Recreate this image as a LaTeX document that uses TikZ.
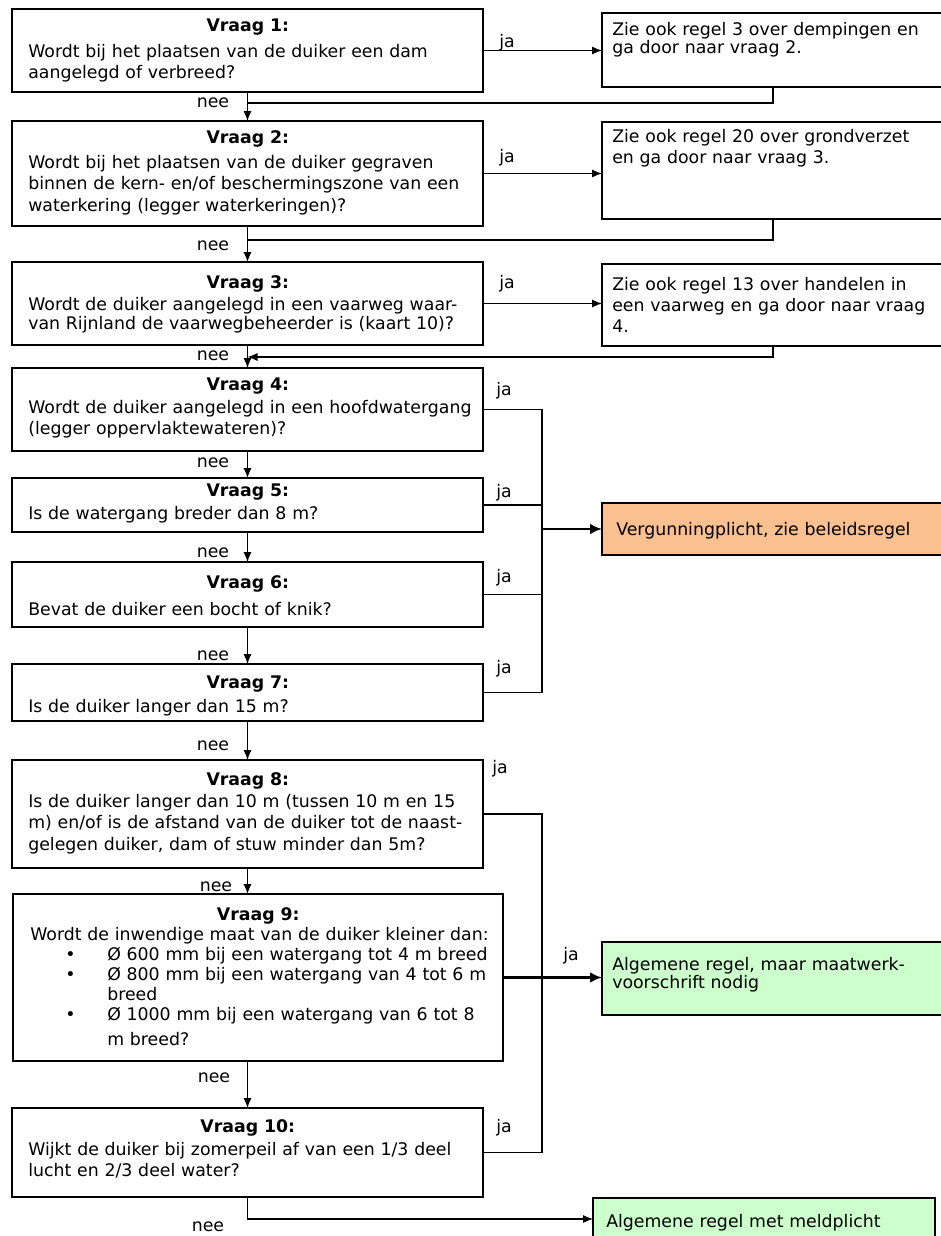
\documentclass[tikz,border=0pt]{standalone}
\usepackage{fontspec}
\setmainfont{DejaVu Sans}
\usetikzlibrary{arrows.meta,calc}
\definecolor{orangefill}{RGB}{250,192,143}
\definecolor{greenfill}{RGB}{204,255,204}
\newcommand{\mkbox}[6][]{\node[box,#1,minimum width={(#4-#2)*0.75pt},minimum height={(#5-#3)*0.75pt}] (#6) at (#2,#3) {};}
\newcommand{\vq}[2]{\makebox[#1][c]{\bfseries Vraag #2:}}
\newcommand{\bl}{\makebox[57.75pt][l]{\hspace*{26.25pt}\textbullet}}
\begin{document}
\begin{tikzpicture}[x=0.75pt,y=-0.75pt,
  box/.style={draw,line width=1.1pt,inner sep=0pt,outer sep=0pt,anchor=north west},
  tx/.style={inner sep=0pt,anchor=base west,align=left},
  lbl/.style={inner sep=0pt,anchor=base,font=\fontsize{13}{16}\selectfont},
  conn/.style={line width=0.8pt},
  arr/.style={line width=0.8pt,-{Latex[length=7.5pt,width=6pt]}},
  bigarr/.style={line width=1.6pt,-{Latex[length=9pt,width=8pt]}},
  fq/.style={font=\fontsize{13}{16.25}\selectfont},
]
\fill[white] (0,0) rectangle (940,1236);
\useasboundingbox (0,0) rectangle (940,1236);

% question boxes
\mkbox{12}{9}{483}{92}{q1}
\mkbox{12}{121}{483}{226}{q2}
\mkbox{12}{262}{483}{345}{q3}
\mkbox{12}{368}{483}{451}{q4}
\mkbox{12}{478}{483}{532}{q5}
\mkbox{12}{562}{483}{627}{q6}
\mkbox{12}{664}{483}{721}{q7}
\mkbox{12}{760}{483}{868}{q8}
\mkbox{13}{894}{503}{1061}{q9}
\mkbox{12}{1108}{483}{1197}{q10}
% result boxes
\mkbox{602}{13}{944}{87}{r1}
\mkbox{602}{122}{944}{219}{r2}
\mkbox{602}{264}{944}{346}{r3}
\mkbox[fill=orangefill]{602}{503}{944}{555}{v}
\mkbox[fill=greenfill]{602}{942}{944}{1015}{g1}
\mkbox[fill=greenfill]{593}{1198}{935}{1240}{g2}

% texts
\node[tx,fq,text width=345pt] (q1t) at (28,31) {\vq{329.25pt}{1}\\[3.25pt]Wordt bij het plaatsen van de duiker een dam\\aangelegd of verbreed?};
\node[tx,fq,text width=345pt] (q2t) at (28,143) {\vq{329.25pt}{2}\\[2.5pt]Wordt bij het plaatsen van de duiker gegraven\\binnen de kern- en/of beschermingszone van een\\waterkering (legger waterkeringen)?};
\node[tx,font=\fontsize{13}{14.25}\selectfont,text width=345pt] (q3t) at (28,288) {\vq{329.25pt}{3}\\[2.25pt]Wordt de duiker aangelegd in een vaarweg waar-\\van Rijnland de vaarwegbeheerder is (kaart 10)?};
\node[tx,fq,text width=345pt] (q4t) at (28,390) {\vq{329.25pt}{4}\\[1pt]Wordt de duiker aangelegd in een hoofdwatergang\\(legger oppervlaktewateren)?};
\node[tx,fq,text width=345pt] (q5t) at (28,496) {\vq{329.25pt}{5}\\[1pt]Is de watergang breder dan 8 m?};
\node[tx,fq,text width=345pt] (q6t) at (28,588) {\vq{329.25pt}{6}\\[4pt]Bevat de duiker een bocht of knik?};
\node[tx,fq,text width=345pt] (q7t) at (28,688) {\vq{329.25pt}{7}\\[1.75pt]Is de duiker langer dan 15 m?};
\node[tx,fq,text width=345pt] (q8t) at (28,785) {\vq{329.25pt}{8}\\[0.25pt]Is de duiker langer dan 10 m (tussen 10 m en 15\\m) en/of is de afstand van de duiker tot de naast-\\gelegen duiker, dam of stuw minder dan 5m?};
\node[tx,font=\fontsize{13}{15}\selectfont,text width=352pt] (q9t) at (30,920) {\vq{342pt}{9}\\Wordt de inwendige maat van de duiker kleiner dan:\\\bl Ø 600 mm bij een watergang tot 4 m breed\\\bl Ø 800 mm bij een watergang van 4 tot 6 m\\\hspace*{57.75pt}breed\\\bl Ø 1000 mm bij een watergang van 6 tot 8\\[3.75pt]\hspace*{57.75pt}m breed?};
\node[tx,fq,text width=345pt] (q10t) at (28,1132) {\vq{329.25pt}{10}\\[1pt]Wijkt de duiker bij zomerpeil af van een 1/3 deel\\lucht en 2/3 deel water?};

\node[tx,font=\fontsize{13}{13.5}\selectfont,text width=250pt] (r1t) at (612,35) {Zie ook regel 3 over dempingen en\\ga door naar vraag 2.};
\node[tx,font=\fontsize{13}{15.75}\selectfont,text width=250pt] (r2t) at (612,142) {Zie ook regel 20 over grondverzet\\en ga door naar vraag 3.};
\node[tx,font=\fontsize{13}{16}\selectfont,text width=250pt] (r3t) at (612,290) {Zie ook regel 13 over handelen in\\een vaarweg en ga door naar vraag\\4.};
\node[tx,font=\fontsize{13}{16}\selectfont,text width=250pt] (vt) at (616,535) {Vergunningplicht, zie beleidsregel};
\node[tx,font=\fontsize{13}{13.5}\selectfont,text width=250pt] (g1t) at (612,970) {Algemene regel, maar maatwerk-\\voorschrift nodig};
\node[tx,font=\fontsize{13}{16}\selectfont,text width=250pt] (g2t) at (606,1227) {Algemene regel met meldplicht};

% labels
\node[lbl] (ja1) at (507,47) {ja};
\node[lbl] (ja2) at (507,162) {ja};
\node[lbl] (ja3) at (507,288) {ja};
\node[lbl] (ja4) at (504,395) {ja};
\node[lbl] (ja5) at (504,497) {ja};
\node[lbl] (ja6) at (504,582) {ja};
\node[lbl] (ja7) at (504,673) {ja};
\node[lbl] (ja8) at (500,773) {ja};
\node[lbl] (ja9) at (571,960) {ja};
\node[lbl] (ja10) at (504,1132) {ja};
\node[lbl] (nee1) at (213,107) {nee};
\node[lbl] (nee2) at (213,250) {nee};
\node[lbl] (nee3) at (213,360) {nee};
\node[lbl] (nee4) at (213,467) {nee};
\node[lbl] (nee5) at (213,557) {nee};
\node[lbl] (nee6) at (213,660) {nee};
\node[lbl] (nee7) at (213,750) {nee};
\node[lbl] (nee8) at (216,891) {nee};
\node[lbl] (nee9) at (214,1082) {nee};
\node[lbl] (nee10) at (208,1231) {nee};

% coordinates
\coordinate (j1) at (247.5,103);
\coordinate (j2) at (247.5,240);
\coordinate (j3) at (247.5,357);
\coordinate (vx) at (542,0);

% ja connectors to remarks
\draw[arr] (q1.east) -- (q1.east -| r1.west);
\draw[arr] (q2.east) -- (q2.east -| r2.west);
\draw[arr] (q3.east) -- (q3.east -| r3.west);
% returns
\draw[conn] (r1.south) |- (j1);
\draw[conn] (r2.south) |- (j2);
\draw[arr] (r3.south) |- (j3);
% nee chain
\draw[arr] (q1.south) -- (q2.north);
\draw[arr] (q2.south) -- (q3.north);
\draw[arr] (q3.south) -- (q4.north);
\draw[arr] (q4.south) -- (q5.north);
\draw[arr] (q5.south) -- (q6.north);
\draw[arr] (q6.south) -- (q7.north);
\draw[arr] (q7.south) -- (q8.north);
\draw[arr] (q8.south) -- (q8.south |- q9.north);
\draw[arr] (q10.north |- q9.south) -- (q10.north);
% bus to Vergunningplicht
\draw[conn] (q4.east) -- (q4.east -| vx) -- (q7.east -| vx) -- (q7.east);
\draw[conn] (q5.east) -- (q5.east -| vx);
\draw[conn] (q6.east) -- (q6.east -| vx);
\draw[bigarr] (v.west -| vx) -- (v.west);
% bus to maatwerk
\draw[conn] (q8.east) -- (q8.east -| vx) -- (q10.east -| vx) -- (q10.east);
\draw[bigarr] (q9.east) -- (q9.east -| g1.west);
% final
\draw[arr] (q10.south) |- (g2.west);
\end{tikzpicture}
\end{document}
